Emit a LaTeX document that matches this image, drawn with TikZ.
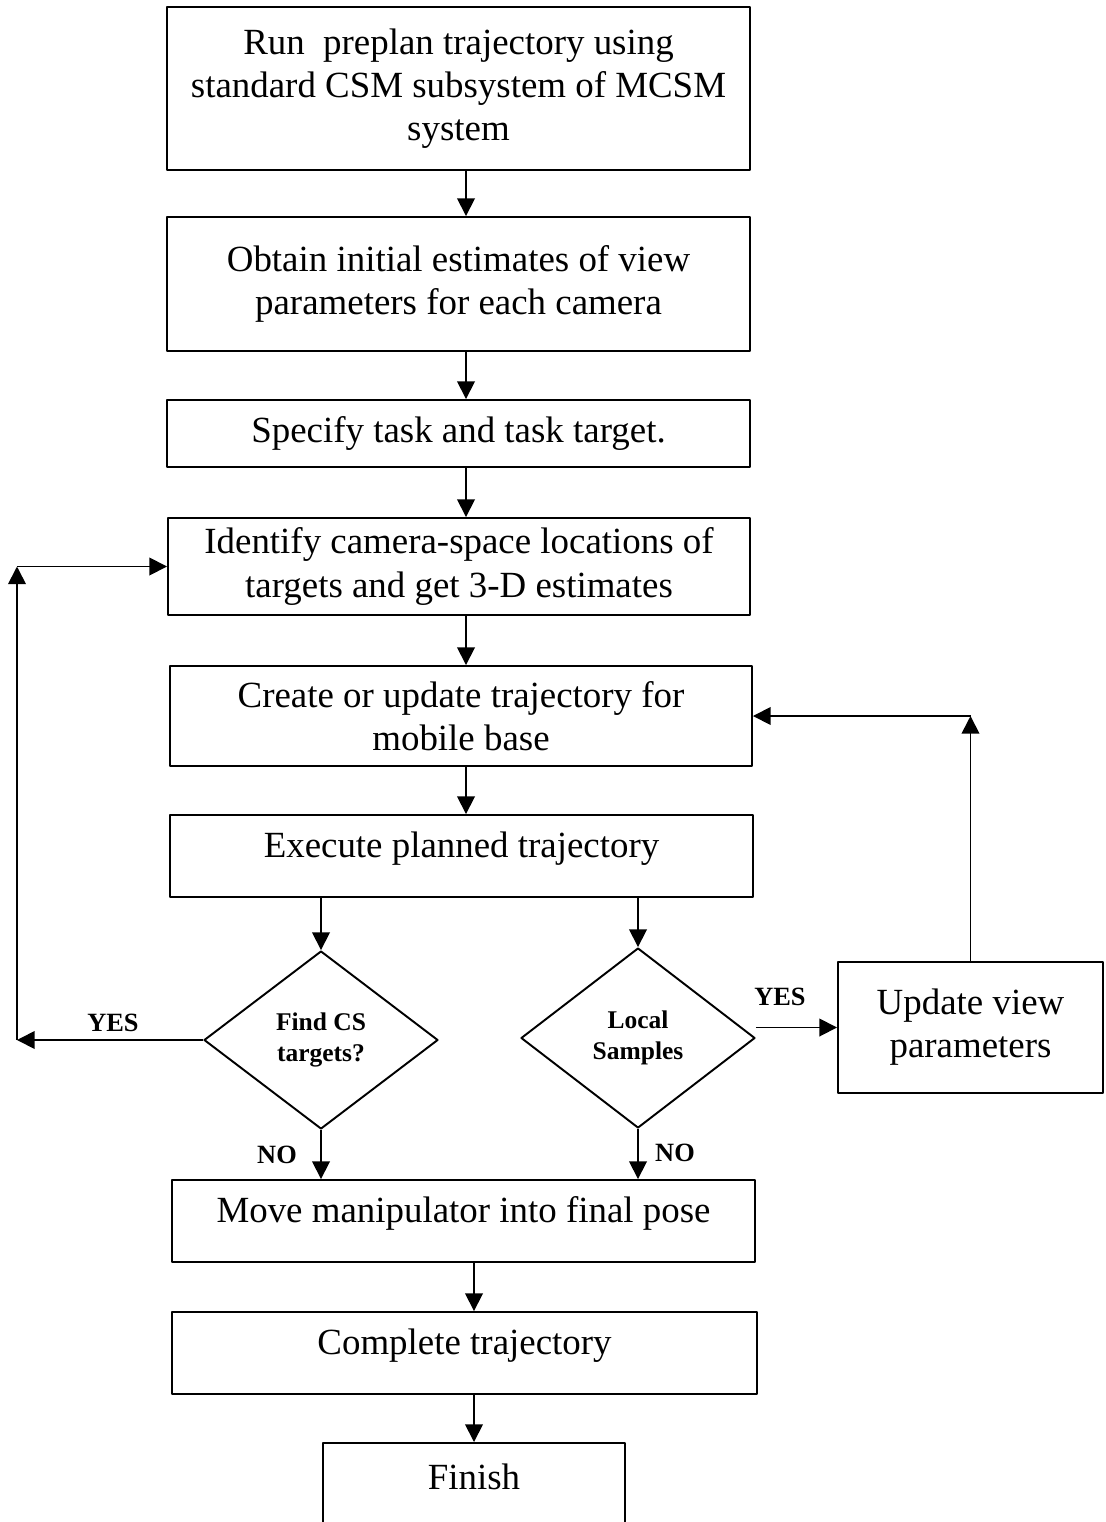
\documentclass[tikz,border=0pt]{standalone}
\usepackage{fontspec}
\setmainfont{Liberation Serif}
\usetikzlibrary{shapes.geometric,arrows.meta}

\begin{document}
\begin{tikzpicture}[x=0.2mm,y=-0.2mm,line join=round,
  box/.style={draw,line width=1.1pt,inner sep=0pt,align=center,font=\fontsize{21}{24.5}\selectfont},
  up/.style={text depth=13pt},
  dec/.style={diamond,draw,line width=1.1pt,inner sep=0pt,align=center,minimum width=4.68cm,font=\bfseries\fontsize{14.5}{18}\selectfont},
  lbl/.style={font=\bfseries\fontsize{15}{18}\selectfont},
  arr/.style={line width=1pt,-{Triangle[length=10pt,width=10pt]}}]
\useasboundingbox (0,0) rectangle (1106,1522);
\clip (0,0) rectangle (1106,1522);
\node[box,minimum width=11.66cm,minimum height=3.26cm] (run) at (458.5,88.5) {Run\ \ preplan trajectory using\\standard CSM subsystem of MCSM\\system};
\node[box,minimum width=11.66cm,minimum height=2.68cm] (obtain) at (458.5,284) {Obtain initial estimates of view\\parameters for each camera};
\node[box,minimum width=11.66cm,minimum height=1.34cm] (spec) at (458.5,433.5) {Specify task and task target.};
\node[box,minimum width=11.64cm,minimum height=1.94cm] (ident) at (459,566.5) {Identify camera-space locations of\\targets and get 3-D estimates};
\node[box,minimum width=11.64cm,minimum height=2cm] (create) at (461,716) {Create or update trajectory for\\mobile base};
\node[box,up,minimum width=11.66cm,minimum height=1.64cm] (exec) at (461.5,856) {Execute planned trajectory};
\node[dec,minimum height=3.56cm] (find) at (321,1040) {Find CS\\targets?};
\node[dec,minimum height=3.6cm] (local) at (638,1038) {Local\\Samples};
\node[box,minimum width=5.3cm,minimum height=2.62cm] (upd) at (970.5,1027.5) {Update view\\parameters};
\node[box,up,minimum width=11.66cm,minimum height=1.64cm] (move) at (463.5,1221) {Move manipulator into final pose};
\node[box,up,minimum width=11.7cm,minimum height=1.64cm] (compl) at (464.5,1353) {Complete trajectory};
\node[box,anchor=north,minimum width=6.04cm,inner ysep=12pt,text depth=40pt] (fin) at (474,1442) {Finish};
\coordinate (ax) at (466,0);
\coordinate (bx) at (474,0);
\coordinate (lx) at (17,0);
\draw[arr] (run.south -| ax) -- (obtain.north -| ax);
\draw[arr] (obtain.south -| ax) -- (spec.north -| ax);
\draw[arr] (spec.south -| ax) -- (ident.north -| ax);
\draw[arr] (ident.south -| ax) -- (create.north -| ax);
\draw[arr] (create.south -| ax) -- (exec.north -| ax);
\draw[arr] (exec.south -| find.north) -- (find.north);
\draw[arr] (exec.south -| local.north) -- (local.north);
\draw[arr] (find.south) -- (find.south |- move.north);
\draw[arr] (local.south) -- (local.south |- move.north);
\draw[arr] (find.west) -- (find.west -| lx);
\draw[arr] (find.west -| lx) -- (ident.west -| lx);
\draw[arr] (ident.west -| lx) -- (ident.west);
\draw[arr] (local.east |- upd.west) -- (upd.west);
\draw[arr] (upd.north) -- (upd.north |- create.east);
\draw[arr] (upd.north |- create.east) -- (create.east);
\draw[arr] (move.south -| bx) -- (compl.north -| bx);
\draw[arr] (compl.south -| bx) -- (fin.north -| bx);
\node[lbl] (yes1) at (113,1023) {YES};
\node[lbl] (yes2) at (780,997) {YES};
\node[lbl] (no1) at (277,1155) {NO};
\node[lbl] (no2) at (675,1153) {NO};
\end{tikzpicture}
\end{document}
